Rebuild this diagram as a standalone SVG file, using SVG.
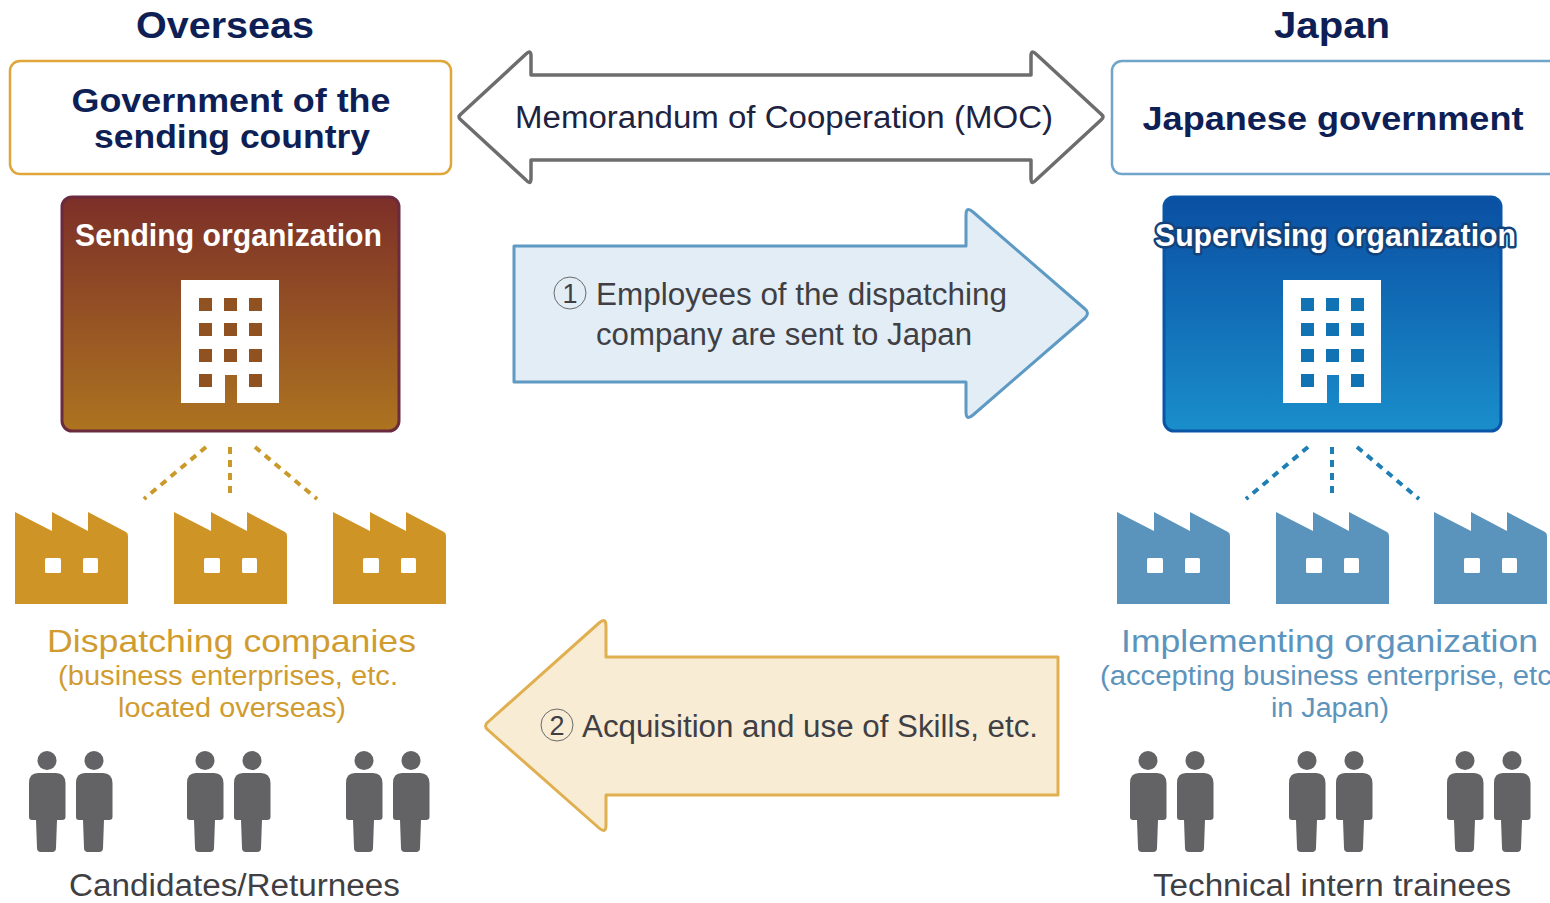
<svg xmlns="http://www.w3.org/2000/svg" width="1550" height="903" viewBox="0 0 1550 903">
<style>
text{font-family:"Liberation Sans",Arial,Helvetica,sans-serif;text-anchor:middle}
.navy{fill:#0e1f56;font-weight:bold}
.hd{font-size:37px}
.gov{font-size:34px}
.org{font-size:31px;font-weight:bold;fill:#fff}
.body{font-size:31px;fill:#3f3f44}
.gold{fill:#d09c30}
.blue{fill:#5c94bd}
.l1{font-size:32px}
.l2{font-size:27px}
.goldfill{fill:#cf9426}
.bluefill{fill:#5a94bd}
.dashg{stroke:#c99a2a;stroke-width:4;stroke-dasharray:7 6;fill:none}
.dashb{stroke:#1f7fb5;stroke-width:4;stroke-dasharray:7 6;fill:none}
.person{fill:#636365}
</style>
<defs>
<linearGradient id="br" x1="0" y1="0" x2="0" y2="1"><stop offset="0" stop-color="#7c2f28"/><stop offset="1" stop-color="#ad7420"/></linearGradient>
<linearGradient id="bl" x1="0" y1="0" x2="0" y2="1"><stop offset="0" stop-color="#0a4fa3"/><stop offset="1" stop-color="#1a8ecb"/></linearGradient>
<path id="factory" d="M0 0L37 19V0L73 19V0L111 20Q113 21 113 24V92H0Z"/>
<g id="windows"><rect x="30" y="46" width="16" height="15" rx="1.500"/><rect x="68" y="46" width="15" height="15" rx="1.500"/></g>
<g id="people">
<circle cx="18" cy="9.500" r="9.500"/><path d="M9 22H27Q36 22 36.500 32V66Q36.500 69 33 69H28L27 97Q27 101 23 101H12Q8 101 8 97L7 69H3Q0 69 0 66V32Q0 22 9 22Z"/>
<circle cx="65" cy="9.500" r="9.500"/><path d="M56 22H74Q83 22 83.500 32V66Q83.500 69 80 69H75L74 97Q74 101 70 101H59Q55 101 55 97L54 69H50Q47 69 47 66V32Q47 22 56 22Z"/>
</g>
<path id="bldg" d="M0 0H98V123H56V95H44V123H0Z"/>
<g id="bwin"><rect x="18" y="18" width="13" height="13"/><rect x="43" y="18" width="13" height="13"/><rect x="68" y="18" width="13" height="13"/><rect x="18" y="43" width="13" height="13"/><rect x="43" y="43" width="13" height="13"/><rect x="68" y="43" width="13" height="13"/><rect x="18" y="69" width="13" height="13"/><rect x="43" y="69" width="13" height="13"/><rect x="68" y="69" width="13" height="13"/><rect x="18" y="94" width="13" height="13"/><rect x="68" y="94" width="13" height="13"/></g>
</defs>
<rect width="1550" height="903" fill="#fff"/>

<g id="connectors">
<path class="dashg" d="M206 447L144 499M230 447V499M255 447L317 499"/>
<path class="dashb" d="M1308 447L1246 499M1332 447V499M1357 447L1419 499"/>
</g>

<g id="heading-overseas"><text class="navy hd" x="225" y="38" textLength="178" lengthAdjust="spacingAndGlyphs">Overseas</text></g>
<g id="heading-japan"><text class="navy hd" x="1332" y="38" textLength="116" lengthAdjust="spacingAndGlyphs">Japan</text></g>

<g id="gov-sending">
<rect x="10" y="61" width="441" height="113" rx="10" fill="#fff" stroke="#e0a63a" stroke-width="2.500"/>
<text class="navy gov" x="231" y="112" textLength="319" lengthAdjust="spacingAndGlyphs">Government of the</text>
<text class="navy gov" x="232" y="148" textLength="276" lengthAdjust="spacingAndGlyphs">sending country</text>
</g>
<g id="gov-japan">
<rect x="1112" y="61" width="450" height="113" rx="10" fill="#fff" stroke="#6fa5cb" stroke-width="2.500"/>
<text class="navy gov" x="1333" y="130" textLength="381" lengthAdjust="spacingAndGlyphs">Japanese government</text>
</g>

<g id="moc-arrow">
<path d="M461 114L526 54Q531 49 531 56V75H1031V56Q1031 49 1036 54L1101 114Q1105 117 1101 120L1036 180Q1031 186 1031 178V160H531V178Q531 186 526 180L461 120Q457 117 461 114Z" fill="#fff" stroke="#6d6d6d" stroke-width="3.500" stroke-linejoin="round"/>
<text x="784" y="128" font-size="31" fill="#1d2340" textLength="538" lengthAdjust="spacingAndGlyphs">Memorandum of Cooperation (MOC)</text>
</g>

<g id="arrow-1">
<path d="M514 246H966V215Q966 206 973 212L1085 309Q1090 313 1085 318L973 415Q966 421 966 412V382H514Z" fill="#e2edf6" stroke="#5e9ac4" stroke-width="3" stroke-linejoin="round"/>
<circle cx="570" cy="293" r="16" fill="none" stroke="#6a6a6a" stroke-width="1"/>
<text class="body" x="570" y="303" style="font-size:27px">1</text>
<text class="body" x="801.500" y="305" textLength="411" lengthAdjust="spacingAndGlyphs">Employees of the dispatching</text>
<text class="body" x="784" y="345" textLength="376" lengthAdjust="spacingAndGlyphs">company are sent to Japan</text>
</g>

<g id="arrow-2">
<path d="M1058 657H606V626Q606 617 599 623L488 722Q483 726 488 730L599 828Q606 834 606 825V795H1058Z" fill="#f8ecd4" stroke="#e0b050" stroke-width="3" stroke-linejoin="round"/>
<circle cx="557" cy="725" r="16" fill="none" stroke="#6a6a6a" stroke-width="1"/>
<text class="body" x="557" y="735" style="font-size:27px">2</text>
<text class="body" x="810" y="737" textLength="456" lengthAdjust="spacingAndGlyphs">Acquisition and use of Skills, etc.</text>
</g>

<g id="sending-org">
<rect x="62" y="197" width="337" height="234" rx="10" fill="url(#br)" stroke="#6b2a3e" stroke-width="3"/>
<text class="org" x="228.500" y="246" textLength="307" lengthAdjust="spacingAndGlyphs">Sending organization</text>
<use href="#bldg" x="181" y="280" fill="#fff"/>
<use href="#bwin" x="181" y="280" fill="#8f5220"/>
</g>
<g id="supervising-org">
<rect x="1164" y="197" width="337" height="234" rx="10" fill="url(#bl)" stroke="#0a55a5" stroke-width="3"/>
<text class="org" x="1335.500" y="246" stroke="#12437c" stroke-width="5" stroke-linejoin="round" paint-order="stroke" textLength="361" lengthAdjust="spacingAndGlyphs">Supervising organization</text>
<use href="#bldg" x="1283" y="280" fill="#fff"/>
<use href="#bwin" x="1283" y="280" fill="#1173b3"/>
</g>

<g id="dispatching">
<g class="goldfill"><use href="#factory" x="15" y="512"/><use href="#factory" x="174" y="512"/><use href="#factory" x="333" y="512"/></g>
<g fill="#fff"><use href="#windows" x="15" y="512"/><use href="#windows" x="174" y="512"/><use href="#windows" x="333" y="512"/></g>
<text class="gold l1" x="231.500" y="652" textLength="369" lengthAdjust="spacingAndGlyphs">Dispatching companies</text>
<text class="gold l2" x="228" y="685" textLength="340" lengthAdjust="spacingAndGlyphs">(business enterprises, etc.</text>
<text class="gold l2" x="232" y="717" textLength="228" lengthAdjust="spacingAndGlyphs">located overseas)</text>
</g>
<g id="implementing">
<g class="bluefill"><use href="#factory" x="1117" y="512"/><use href="#factory" x="1276" y="512"/><use href="#factory" x="1434" y="512"/></g>
<g fill="#fff"><use href="#windows" x="1117" y="512"/><use href="#windows" x="1276" y="512"/><use href="#windows" x="1434" y="512"/></g>
<text class="blue l1" x="1329.500" y="652" textLength="417" lengthAdjust="spacingAndGlyphs">Implementing organization</text>
<text class="blue l2" x="1330" y="685" textLength="460" lengthAdjust="spacingAndGlyphs">(accepting business enterprise, etc.</text>
<text class="blue l2" x="1330" y="717" textLength="118" lengthAdjust="spacingAndGlyphs">in Japan)</text>
</g>

<g id="candidates">
<g class="person"><use href="#people" x="29" y="751"/><use href="#people" x="187" y="751"/><use href="#people" x="346" y="751"/></g>
<text class="body" x="234.500" y="896" textLength="331" lengthAdjust="spacingAndGlyphs">Candidates/Returnees</text>
</g>
<g id="trainees">
<g class="person"><use href="#people" x="1130" y="751"/><use href="#people" x="1289" y="751"/><use href="#people" x="1447" y="751"/></g>
<text class="body" x="1332" y="896" textLength="358" lengthAdjust="spacingAndGlyphs">Technical intern trainees</text>
</g>
</svg>
